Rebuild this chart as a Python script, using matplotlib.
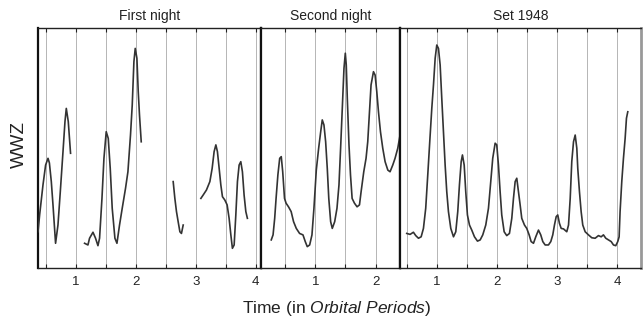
import matplotlib
matplotlib.use("Agg")
import matplotlib.pyplot as plt
from matplotlib.ticker import MultipleLocator

plt.rcParams["font.family"] = ["Liberation Sans", "DejaVu Sans"]
plt.rcParams["mathtext.fontset"] = "custom"
plt.rcParams["mathtext.rm"] = "Liberation Sans"
plt.rcParams["mathtext.it"] = "Liberation Sans:italic"

# ---- First night (gaps in the light curve -> separate segments) ----
n1_seg1_t = [0.37, 0.397, 0.453, 0.497, 0.537, 0.56, 0.592, 0.62, 0.663, 0.703,
             0.742, 0.787, 0.82, 0.842, 0.875, 0.913]
n1_seg1_w = [0.151, 0.221, 0.346, 0.429, 0.457, 0.438, 0.36, 0.263, 0.103, 0.179,
             0.318, 0.485, 0.61, 0.665, 0.61, 0.478]

n1_seg2_t = [1.147, 1.203, 1.23, 1.287, 1.33, 1.37, 1.397, 1.437, 1.47, 1.508,
             1.542, 1.575, 1.608, 1.653, 1.687, 1.73, 1.775, 1.83, 1.87, 1.913,
             1.942, 1.97, 1.992, 2.02, 2.042, 2.063, 2.092]
n1_seg2_w = [0.103, 0.096, 0.124, 0.149, 0.124, 0.093, 0.124, 0.29, 0.457, 0.568,
             0.54, 0.415, 0.249, 0.124, 0.103, 0.179, 0.249, 0.332, 0.401, 0.554,
             0.679, 0.86, 0.915, 0.874, 0.735, 0.638, 0.526]

n1_seg3_t = [2.625, 2.653, 2.68, 2.708, 2.737, 2.763, 2.792]
n1_seg3_w = [0.36, 0.29, 0.235, 0.193, 0.151, 0.144, 0.179]

n1_seg4_t = [3.087, 3.125, 3.18, 3.237, 3.275, 3.308, 3.337, 3.363, 3.392, 3.42,
             3.447, 3.487, 3.525, 3.558, 3.587, 3.613, 3.642, 3.67, 3.697, 3.725,
             3.753, 3.78, 3.808, 3.837, 3.863]
n1_seg4_w = [0.29, 0.304, 0.325, 0.36, 0.415, 0.485, 0.513, 0.485, 0.415, 0.346,
             0.297, 0.283, 0.263, 0.207, 0.138, 0.082, 0.096, 0.221, 0.36, 0.429,
             0.443, 0.401, 0.304, 0.235, 0.207]

# ---- Second night ----
n2_t = [0.27, 0.3, 0.327, 0.35, 0.38, 0.41, 0.436, 0.46, 0.49, 0.516, 0.556, 0.6,
        0.64, 0.685, 0.74, 0.796, 0.834, 0.867, 0.907, 0.945, 0.978, 1.017, 1.056,
        1.09, 1.116, 1.144, 1.172, 1.199, 1.224, 1.255, 1.282, 1.322, 1.36, 1.393,
        1.42, 1.448, 1.476, 1.498, 1.514, 1.531, 1.559, 1.584, 1.611, 1.65, 1.693,
        1.733, 1.76, 1.804, 1.842, 1.87, 1.899, 1.925, 1.965, 1.992, 2.02, 2.048,
        2.081, 2.119, 2.158, 2.203, 2.24, 2.285, 2.323, 2.368, 2.406]
n2_w = [0.117, 0.138, 0.207, 0.29, 0.388, 0.457, 0.464, 0.401, 0.29, 0.27, 0.255,
        0.235, 0.193, 0.165, 0.144, 0.138, 0.11, 0.089, 0.096, 0.138, 0.249, 0.408,
        0.499, 0.568, 0.617, 0.596, 0.526, 0.415, 0.29, 0.193, 0.165, 0.193, 0.249,
        0.346, 0.499, 0.665, 0.832, 0.895, 0.846, 0.707, 0.513, 0.388, 0.29, 0.27,
        0.255, 0.263, 0.318, 0.401, 0.457, 0.526, 0.651, 0.763, 0.818, 0.804, 0.735,
        0.651, 0.568, 0.499, 0.443, 0.408, 0.401, 0.429, 0.457, 0.499, 0.554]

# ---- Set 1948 ----
s3_t = [0.497, 0.553, 0.608, 0.647, 0.692, 0.737, 0.775, 0.813, 0.847, 0.88, 0.914,
        0.942, 0.97, 0.997, 1.025, 1.053, 1.08, 1.108, 1.136, 1.163, 1.191, 1.23,
        1.275, 1.313, 1.346, 1.374, 1.403, 1.424, 1.453, 1.479, 1.507, 1.541, 1.579,
        1.624, 1.674, 1.719, 1.762, 1.812, 1.857, 1.895, 1.928, 1.968, 1.995, 2.023,
        2.051, 2.078, 2.118, 2.161, 2.206, 2.245, 2.273, 2.301, 2.328, 2.356, 2.384,
        2.411, 2.456, 2.494, 2.534, 2.567, 2.606, 2.644, 2.689, 2.727, 2.761, 2.8,
        2.855, 2.894, 2.927, 2.955, 2.984, 3.01, 3.038, 3.067, 3.105, 3.16, 3.189,
        3.217, 3.243, 3.272, 3.3, 3.327, 3.343, 3.371, 3.399, 3.426, 3.466, 3.521,
        3.576, 3.632, 3.687, 3.732, 3.77, 3.809, 3.854, 3.899, 3.937, 3.975, 4.008,
        4.031, 4.047, 4.075, 4.103, 4.131, 4.153, 4.175]
s3_w = [0.144, 0.14, 0.149, 0.135, 0.124, 0.13, 0.165, 0.249, 0.388, 0.526, 0.665,
        0.763, 0.874, 0.929, 0.915, 0.846, 0.707, 0.568, 0.429, 0.318, 0.235, 0.165,
        0.13, 0.151, 0.235, 0.346, 0.443, 0.471, 0.429, 0.318, 0.221, 0.179, 0.158,
        0.13, 0.112, 0.117, 0.138, 0.179, 0.249, 0.36, 0.457, 0.52, 0.513, 0.429,
        0.318, 0.221, 0.151, 0.135, 0.144, 0.207, 0.29, 0.36, 0.374, 0.318, 0.263,
        0.207, 0.179, 0.165, 0.138, 0.11, 0.103, 0.13, 0.158, 0.138, 0.11, 0.096,
        0.096, 0.11, 0.138, 0.179, 0.214, 0.221, 0.186, 0.165, 0.163, 0.151, 0.179,
        0.29, 0.443, 0.526, 0.554, 0.499, 0.415, 0.318, 0.235, 0.179, 0.151, 0.138,
        0.126, 0.124, 0.135, 0.13, 0.138, 0.124, 0.117, 0.11, 0.096, 0.093, 0.11,
        0.13, 0.235, 0.36, 0.457, 0.54, 0.624, 0.651]

panel_titles = ["First night", "Second night", "Set 1948"]
panel_xlims = [(0.37, 4.09), (0.1, 2.405), (0.385, 4.395)]

fig = plt.figure(figsize=(6.43, 3.2), dpi=100)

W, H = 643.0, 320.0
bottom = 1 - 268 / H
height = 240 / H
edges = [38, 261, 400, 641]

axes = []
for i in range(3):
    ax = fig.add_axes([edges[i] / W, bottom, (edges[i + 1] - edges[i]) / W, height])
    axes.append(ax)

curves = [
    [(n1_seg1_t, n1_seg1_w), (n1_seg2_t, n1_seg2_w),
     (n1_seg3_t, n1_seg3_w), (n1_seg4_t, n1_seg4_w)],
    [(n2_t, n2_w)],
    [(s3_t, s3_w)],
]

for i, ax in enumerate(axes):
    for t, w in curves[i]:
        ax.plot(t, w, color="#333333", lw=1.2, zorder=3)
    ax.set_xlim(*panel_xlims[i])
    ax.set_ylim(0, 1)
    ax.xaxis.set_major_locator(MultipleLocator(1))
    ax.xaxis.set_minor_locator(MultipleLocator(0.5))
    ax.grid(True, which="both", axis="x", color="#b5b5b5", lw=0.7)
    ax.set_yticks([])
    ax.tick_params(axis="x", which="both", direction="in", top=True, bottom=True,
                   length=3, width=0.8, color="#222222")
    ax.tick_params(axis="x", which="major", labelsize=9.5, pad=6, labelcolor="#222222")
    ax.set_title(panel_titles[i], fontsize=10, pad=6, color="#222222")
    for side in ("top", "bottom"):
        ax.spines[side].set_color("#222222")
        ax.spines[side].set_linewidth(1.0)
    ax.spines["left"].set_color("#111111")
    ax.spines["left"].set_linewidth(1.6)
    ax.spines["right"].set_color("#111111")
    ax.spines["right"].set_linewidth(1.6)

axes[2].spines["right"].set_color("#999999")
axes[2].spines["right"].set_linewidth(2.0)

fig.text(337 / W, 1 - 308 / H, r"Time (in $\it{Orbital\ Periods}$)",
         ha="center", va="center", fontsize=12.5, color="#222222")
fig.text(19 / W, 1 - 145 / H, "WWZ", rotation=90, ha="center", va="center",
         fontsize=13.5, color="#222222")

fig.savefig("out.png", dpi=100)
